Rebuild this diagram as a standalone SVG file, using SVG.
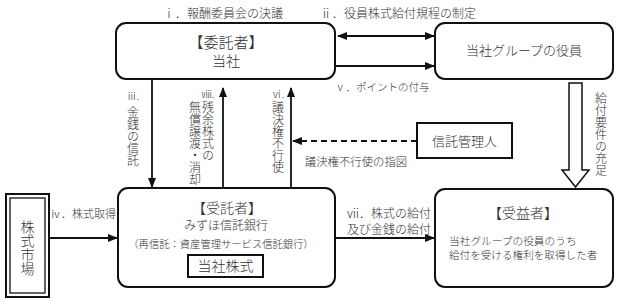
<svg xmlns="http://www.w3.org/2000/svg" width="620" height="304" viewBox="0 0 620 304">
<style>
text{font-family:"Noto Sans CJK JP","Noto Sans",sans-serif;fill:#333;font-weight:300}
.v{writing-mode:vertical-rl}
.box{fill:#fff;stroke:#111;stroke-width:2}
.ln{stroke:#111;stroke-width:1.8;fill:none}
.dash{stroke:#111;stroke-width:1.8;fill:none;stroke-dasharray:6 4}
.m{text-anchor:middle}
.s12{font-size:12px}
.s11{font-size:11px}
.s10{font-size:10px}
</style>
<defs>
<marker id="ah" markerUnits="userSpaceOnUse" markerWidth="10" markerHeight="10" refX="9" refY="5" orient="auto-start-reverse" viewBox="0 0 10 10">
<path d="M0,1 L10,5 L0,9 Z" fill="#111"/>
</marker>
</defs>
<rect width="620" height="304" fill="#fff"/>
<g id="connectors">
<line class="ln" x1="338" y1="36" x2="434" y2="36" marker-start="url(#ah)" marker-end="url(#ah)"/>
<line class="ln" x1="335" y1="66" x2="434" y2="66" marker-end="url(#ah)"/>
<line class="ln" x1="152" y1="79" x2="152" y2="187" marker-end="url(#ah)"/>
<line class="ln" x1="223" y1="188" x2="223" y2="88" marker-end="url(#ah)"/>
<line class="ln" x1="291" y1="188" x2="291" y2="88" marker-end="url(#ah)"/>
<line class="dash" x1="417" y1="141" x2="293" y2="141" marker-end="url(#ah)"/>
<line class="ln" x1="49" y1="238" x2="117" y2="238" marker-end="url(#ah)"/>
<line class="ln" x1="335" y1="238" x2="434" y2="238" marker-end="url(#ah)"/>
<polygon points="569,83 582,83 582,170 589,170 575.5,187 562,170 569,170" fill="#fff" stroke="#111" stroke-width="1.5"/>
<text class="s12 m" x="223" y="17.5">ⅰ．報酬委員会の決議</text>
<text class="s12 m" x="398" y="17.5">ⅱ．役員株式給付規程の制定</text>
<text x="335" y="91" style="font-size:10.5px">ⅴ．ポイントの付与</text>
<text class="m" x="356" y="166" style="font-size:11.4px">議決権不行使の指図</text>
<text class="s11 m" x="83" y="218">ⅳ．株式取得</text>
<text class="s12" x="347" y="217.5">ⅶ．株式の給付</text>
<text class="s12" x="347" y="233.5">及び金銭の給付</text>
<text class="s10 m" x="133" y="100">ⅲ.</text>
<text class="s12 v" x="133" y="106">金銭の信託</text>
<text class="s10 m" x="208" y="98">ⅷ.</text>
<text class="s12 v" x="208" y="101">残余株式の</text>
<text class="s12 v" x="195" y="101">無償譲渡・消却</text>
<text class="s10 m" x="278" y="98">ⅵ.</text>
<text class="s12 v" x="278" y="101">議決権不行使</text>
<text class="s12 v" x="601" y="92">給付要件の充足</text>
</g>
<g id="itakusha">
<rect class="box" x="116" y="23" width="219" height="56" rx="10"/>
<text class="m" x="226" y="47.5" style="font-size:15px">【委託者】</text>
<text class="m" x="226" y="66" style="font-size:14px">当社</text>
</g>
<g id="yakuin">
<rect class="box" x="435" y="23" width="178" height="56" rx="10"/>
<text class="m" x="524" y="55" style="font-size:13px">当社グループの役員</text>
</g>
<g id="shintaku-kanrinin">
<rect class="box" x="417" y="123" width="95" height="35"/>
<text class="m" x="464.5" y="146" style="font-size:13px">信託管理人</text>
</g>
<g id="kabushiki-shijo">
<rect class="box" x="6" y="194" width="43" height="103"/>
<rect x="10" y="198" width="35" height="95" fill="none" stroke="#111" stroke-width="1.3"/>
<text class="v" x="27.5" y="220" style="font-size:14px">株式市場</text>
</g>
<g id="jutakusha">
<rect class="box" x="118" y="188" width="217" height="99" rx="10"/>
<text class="m" x="227" y="213" style="font-size:14px">【受託者】</text>
<text class="m s12" x="226" y="229.5">みずほ信託銀行</text>
<text class="m" x="221" y="248" style="font-size:10.3px">（再信託：資産管理サービス信託銀行）</text>
<rect class="box" x="188" y="255" width="75" height="22"/>
<text class="m" x="225.5" y="271" style="font-size:14px">当社株式</text>
</g>
<g id="juekisha">
<rect class="box" x="435" y="189" width="178" height="98" rx="10"/>
<text class="m" x="523" y="218" style="font-size:14px">【受益者】</text>
<text x="449" y="245" style="font-size:10.7px">当社グループの役員のうち</text>
<text x="449" y="259" style="font-size:10.6px">給付を受ける権利を取得した者</text>
</g>
</svg>
